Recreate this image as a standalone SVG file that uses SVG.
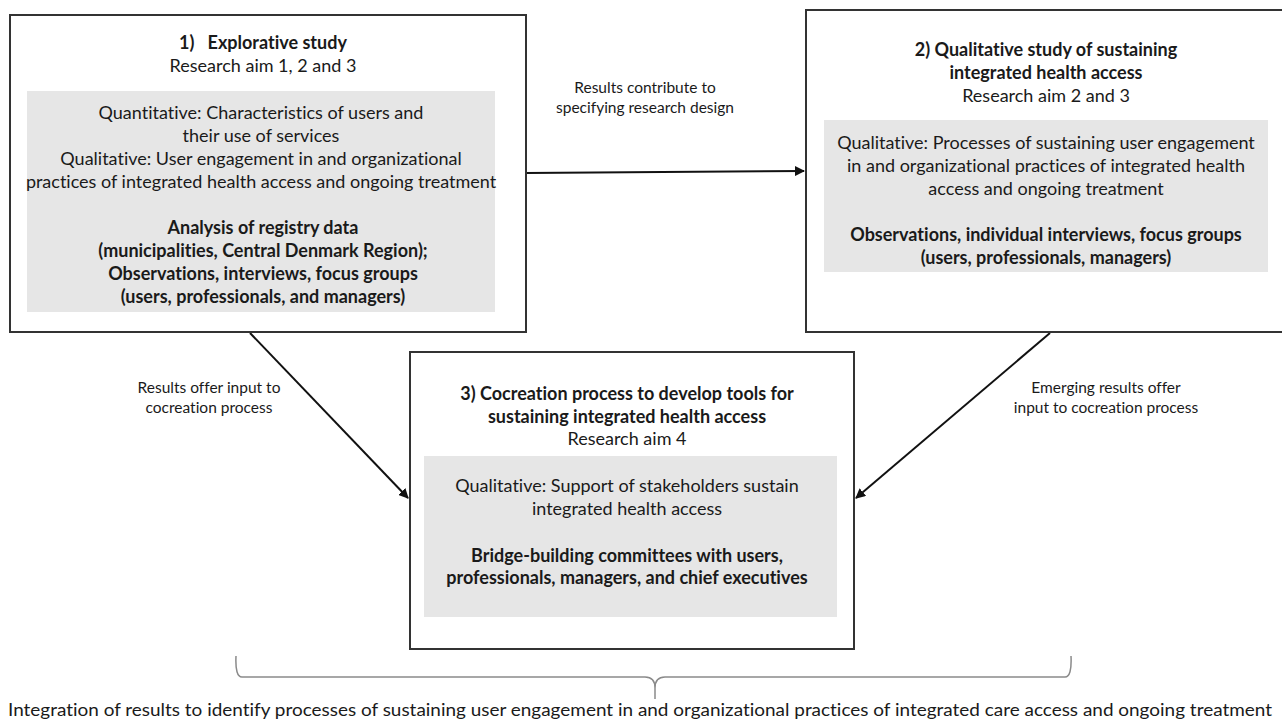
<svg xmlns="http://www.w3.org/2000/svg" width="1282" height="722" viewBox="0 0 1282 722">
<defs>
<style>
.box{fill:#fff;stroke:#333;stroke-width:2}
.panel{fill:#e6e6e6;stroke:none}
text{font-family:Lato,"Liberation Sans",Arial,sans-serif;font-size:18px;fill:#1a1a1a;text-anchor:middle;font-variant-ligatures:none}
.b{font-weight:bold}
.lbl{font-size:15.5px}
.conn{stroke:#111;stroke-width:2;fill:none}
.brace{stroke:#8a8a8a;stroke-width:1.5;fill:none}
</style>
<marker id="ah" viewBox="0 0 10 10" refX="9" refY="5" markerWidth="10" markerHeight="10" markerUnits="userSpaceOnUse" orient="auto">
<path d="M0,0 L10,5 L0,10 z" fill="#111"/>
</marker>
</defs>
<rect width="1282" height="722" fill="#fff"/>

<g id="connectors">
<line class="conn" x1="526" y1="173" x2="804" y2="171" marker-end="url(#ah)"/>
<line class="conn" x1="250" y1="333" x2="408" y2="498" marker-end="url(#ah)"/>
<line class="conn" x1="1050" y1="333" x2="856" y2="498" marker-end="url(#ah)"/>
<text class="lbl" x="645" y="93">Results contribute to</text>
<text class="lbl" x="645" y="113">specifying research design</text>
<text class="lbl" x="209" y="393">Results offer input to</text>
<text class="lbl" x="209" y="413">cocreation process</text>
<text class="lbl" x="1106" y="393">Emerging results offer</text>
<text class="lbl" x="1106" y="413">input to cocreation process</text>
</g>

<g id="node1">
<rect class="box" x="10" y="15" width="516" height="317"/>
<rect class="panel" x="27" y="91" width="468" height="221"/>
<text class="b" x="263" y="49">1)&#160;&#160;&#160;Explorative study</text>
<text x="263" y="72">Research aim 1, 2 and 3</text>
<text x="261" y="119">Quantitative: Characteristics of users and</text>
<text x="261" y="142">their use of services</text>
<text x="261" y="165">Qualitative: User engagement in and organizational</text>
<text x="261" y="188">practices of integrated health access and ongoing treatment</text>
<text class="b" x="263" y="234">Analysis of registry data</text>
<text class="b" x="263" y="257">(municipalities, Central Denmark Region);</text>
<text class="b" x="263" y="280">Observations, interviews, focus groups</text>
<text class="b" x="263" y="303">(users, professionals, and managers)</text>
</g>

<g id="node2">
<rect class="box" x="806" y="10" width="490" height="322"/>
<rect class="panel" x="824" y="120" width="444" height="152"/>
<text class="b" x="1046" y="56">2) Qualitative study of sustaining</text>
<text class="b" x="1046" y="79">integrated health access</text>
<text x="1046" y="102">Research aim 2 and 3</text>
<text x="1046" y="149">Qualitative: Processes of sustaining user engagement</text>
<text x="1046" y="172">in and organizational practices of integrated health</text>
<text x="1046" y="195">access and ongoing treatment</text>
<text class="b" x="1046" y="241">Observations, individual interviews, focus groups</text>
<text class="b" x="1046" y="264">(users, professionals, managers)</text>
</g>

<g id="node3">
<rect class="box" x="410" y="352" width="444" height="297"/>
<rect class="panel" x="424" y="456" width="413" height="161"/>
<text class="b" x="627" y="400">3) Cocreation process to develop tools for</text>
<text class="b" x="627" y="423">sustaining integrated health access</text>
<text x="627" y="445">Research aim 4</text>
<text x="627" y="492">Qualitative: Support of stakeholders sustain</text>
<text x="627" y="515">integrated health access</text>
<text class="b" x="627" y="562">Bridge-building committees with users,</text>
<text class="b" x="627" y="584">professionals, managers, and chief executives</text>
</g>

<g id="integration">
<path class="brace" d="M236,656 Q235,677 242,677 L645,677 Q655,677 655,688 L655,699 M655,688 Q655,677 665,677 L1065,677 Q1072,677 1071,656"/>
<text x="640" y="716" textLength="1264" lengthAdjust="spacingAndGlyphs">Integration of results to identify processes of sustaining user engagement in and organizational practices of integrated care access and ongoing treatment</text>
</g>
</svg>
